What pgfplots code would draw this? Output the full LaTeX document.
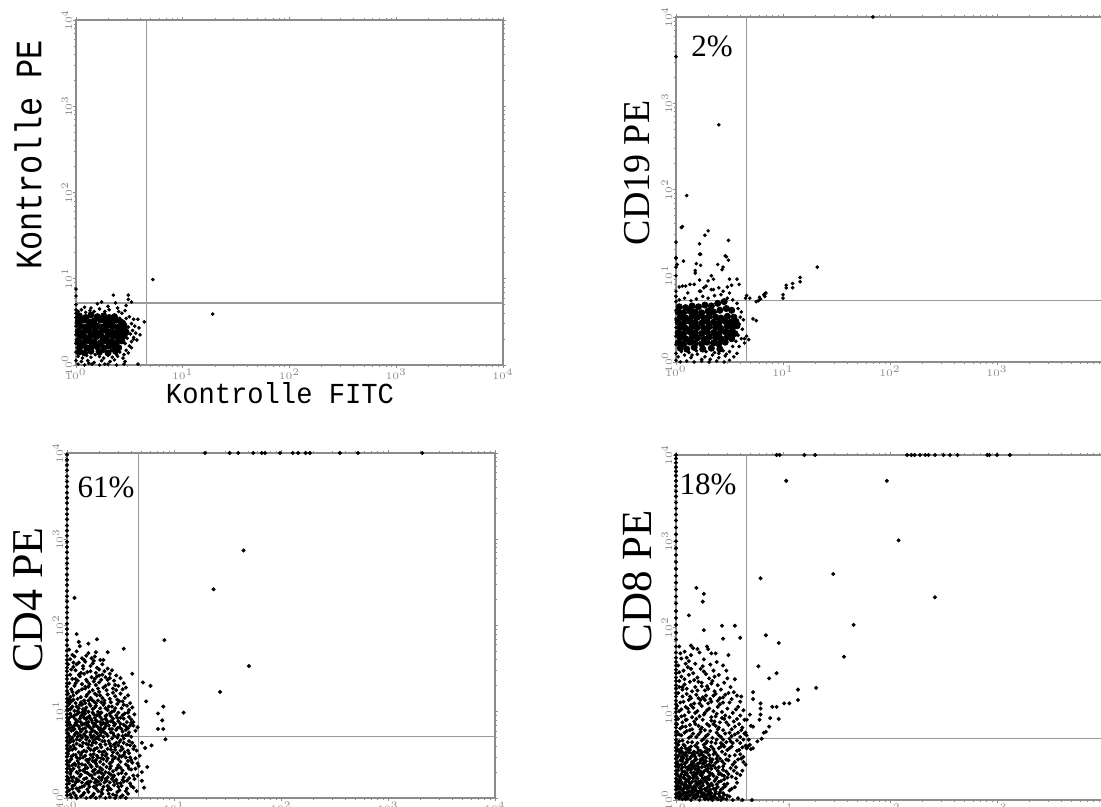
\documentclass[border=0pt]{standalone}
\usepackage{graphicx}
\usepackage{pgfplots}
\pgfplotsset{compat=1.18}
\usepackage{fontspec}
\setmainfont{Liberation Serif}
\newfontfamily\monof{Liberation Mono}
\definecolor{axgray}{gray}{0.55}
\definecolor{qgray}{gray}{0.6}
\pgfplotsset{
  facs/.style={
    scale only axis, width=214pt, height=172.5pt,
    xmin=0, xmax=400, ymin=0, ymax=400,
    axis line style={axgray, line width=0.6pt},
    tick align=outside, major tick length=1.5pt, minor tick length=1pt,
    every tick/.style={axgray, line width=0.35pt},
    xtick={0,100,200,300,400}, ytick={0,100,200,300,400},
    xticklabels={$10^0$,$10^1$,$10^2$,$10^3$,$10^4$},
    yticklabels={$10^0$,$10^1$,$10^2$,$10^3$,$10^4$},
    minor xtick={30.1,47.7,60.2,69.9,77.8,84.5,90.3,95.4,130.1,147.7,160.2,169.9,177.8,184.5,190.3,195.4,230.1,247.7,260.2,269.9,277.8,284.5,290.3,295.4,330.1,347.7,360.2,369.9,377.8,384.5,390.3,395.4},
    minor ytick={30.1,47.7,60.2,69.9,77.8,84.5,90.3,95.4,130.1,147.7,160.2,169.9,177.8,184.5,190.3,195.4,230.1,247.7,260.2,269.9,277.8,284.5,290.3,295.4,330.1,347.7,360.2,369.9,377.8,384.5,390.3,395.4},
    tick label style={font=\fontsize{1.8}{2.1}\selectfont, text=black!45, inner sep=0.2pt},
    y tick label style={rotate=90},
    clip=false,
  },
  rightpanel/.style={xticklabels={$10^0$,$10^1$,$10^2$,$10^3$,{}}},
  dots/.style={only marks, mark=*, mark size=0.7pt, mark options={draw=none, fill=black}},
  bdots/.style={only marks, mark=*, mark size=0.8pt, mark options={draw=none, fill=black}},
  core/.style={only marks, mark=*, mark size=1.55pt, mark options={draw=none, fill=black}},
  qline/.style={qgray, line width=0.7pt, no marks},
}
\begin{document}
\begin{tikzpicture}
\path[use as bounding box] (0,0) rectangle (550.5pt,403.5pt);

% ---------------- Panel 1: Kontrolle ----------------
\begin{axis}[facs, width=213.5pt, at={(38pt,221pt)}, anchor=south west]
\addplot[qline] coordinates {(66,0) (66,400)};
\addplot[qline] coordinates {(0,72) (400,72)};
\addplot[core] coordinates {
(3,57)(9,55)(14,58)(20,56)(26,57)(31,55)(36,56)
(2,50)(7,52)(12,50)(17,51)(23,52)(28,50)(33,51)(38,52)(42,50)
(4,45)(9,44)(15,46)(20,45)(25,44)(30,46)(35,45)(40,44)(45,46)
(2,39)(7,38)(12,40)(18,39)(23,38)(28,40)(33,39)(38,38)(43,40)(47,38)
(4,33)(9,32)(14,34)(19,33)(25,32)(30,34)(35,33)(40,32)(45,34)
(2,27)(7,26)(12,28)(17,27)(23,26)(28,28)(33,27)(38,26)(43,28)
(4,21)(10,20)(15,22)(20,21)(26,20)(31,22)(36,21)(40,20)
(3,15)(8,14)(14,16)(22,15)(30,14)(37,16)
};
\addplot[dots] coordinates {
(0,88)(0,80)(0,70)(0,64)(0,60)(2,62)(5,64)(9,61)(13,63)(17,62)(20,71)(24,73)(22,65)(27,62)(31,64)(35,81)(37,72)(40,62)(43,60)(46,63)(49,81)(49,76)(52,73)(47,69)(39,66)(30,68)(8,67)(14,66)
(50,56)(54,53)(58,53)(64,50)(52,48)(55,45)(59,43)(53,40)(56,37)(60,35)(54,32)(57,29)(52,27)(54,30)(50,22)(52,20)(47,17)(49,14)(45,12)(44,8)(46,4)(58,1)(41,15)(39,10)(49,44)(51,36)(48,31)(46,25)(45,50)(47,54)
(2,10)(6,8)(10,11)(14,9)(18,12)(22,10)(26,8)(30,11)(34,9)(38,12)(5,4)(11,5)(17,3)(24,5)(32,4)(36,6)(2,1)(8,0)(15,1)(22,0)(30,1)(38,0)(45,1)(27,1)(12,2)(0,5)(0,15)(0,25)(0,35)(0,45)(0,55)(1,20)(1,30)(1,40)(1,50)
(6,55)(11,47)(17,42)(22,35)(27,30)(32,24)(37,18)(42,36)(47,43)(8,30)(14,20)(20,16)(26,16)(33,17)(12,37)(29,52)(41,54)(44,47)
(72,99)(128,59)
};
\end{axis}

% ---------------- Panel 2: CD19 ----------------
\begin{axis}[facs, rightpanel, at={(338pt,222.5pt)}, anchor=south west]
\addplot[qline] coordinates {(66,0) (66,400)};
\addplot[qline] coordinates {(0,71) (400,71)};
\addplot[core] coordinates {
(3,64)(9,63)(15,65)(21,64)(27,66)(33,65)(39,68)(45,70)
(2,58)(7,57)(13,59)(18,58)(24,57)(30,59)(35,58)(41,60)(47,62)(52,60)
(4,52)(9,51)(15,53)(20,52)(26,51)(31,53)(37,52)(42,51)(48,53)(54,52)
(2,46)(7,45)(13,47)(18,46)(24,45)(29,47)(35,46)(40,45)(46,47)(51,46)(56,47)
(4,40)(9,39)(15,41)(20,40)(26,39)(31,41)(37,40)(42,39)(48,41)(53,40)(57,42)
(2,34)(7,33)(13,35)(18,34)(24,33)(29,35)(35,34)(40,33)(46,35)(51,34)(55,33)
(4,28)(9,27)(15,29)(20,28)(26,27)(31,29)(37,28)(42,27)(48,29)(52,27)
(2,22)(7,21)(13,23)(18,22)(24,21)(29,23)(35,22)(40,21)(46,23)
(4,16)(10,15)(17,17)(25,15)(33,16)(41,15)
};
\addplot[dots] coordinates {
(0,70)(0,76)(0,82)(3,72)(8,74)(14,71)(19,73)(25,76)(30,74)(36,77)(42,78)(48,74)(53,72)(57,68)(11,80)(22,82)(33,84)(44,82)(50,80)
(58,62)(61,58)(60,52)(63,49)(59,44)(62,38)(58,31)(61,27)(56,24)(59,18)(64,22)(66,30)(53,18)(50,12)(47,9)(57,10)(54,6)
(65,74)(69,74)(68,26)(64,27)(72,50)(75,48)(78,75)(82,78)(84,80)(100,78)(103,89)(109,91)(116,98)(132,110)(116,93)(109,86)(103,86)(100,74)(83,79)(83,76)(79,73)(77,71)(75,70)(66,77)
(6,157)(27,147)(30,152)(22,137)(49,141)(23,125)(47,122)(0,120)(7,117)(19,114)(23,112)(39,113)(44,110)(49,118)(18,106)(18,103)(33,100)(43,107)(22,95)(30,94)(35,96)(50,96)(57,96)(59,90)(48,87)(52,89)(3,87)(6,88)(9,88)(13,90)(17,90)(26,86)(28,88)(35,84)(40,86)(23,82)(0,100)(0,110)(5,156)(0,139)(0,121)(1,113)(46,123)(22,125)
(40,275)(10,193)(184,400)(0,354)
(0,2)(4,0)(10,1)(17,0)(24,1)(31,0)(38,1)(45,0)(50,2)(2,6)(8,8)(14,5)(20,9)(27,6)(34,8)(40,5)(46,7)(5,12)(12,11)(19,13)(28,12)(36,11)(44,13)(0,10)(0,20)(0,30)(0,40)(0,50)(0,60)(24,3)(15,8)(40,10)(32,3)
};
\end{axis}

% ---------------- Panel 3: CD4 ----------------
\begin{axis}[facs, at={(33.5pt,4.5pt)}, anchor=south west]
\addplot[qline] coordinates {(67,0) (67,400)};
\addplot[qline] coordinates {(0,71) (400,71)};
\addplot[bdots] coordinates {
(2,172)(5,166)(9,170)(14,162)(20,168)(26,164)(31,160)(3,161)(17,158)(24,156)
(1,155)(6,152)(11,157)(15,150)(22,153)(28,151)(33,155)(38,150)(8,148)(19,146)(27,145)(35,147)(42,148)
(3,143)(12,141)(16,144)(23,140)(30,142)(36,140)(40,144)(46,142)(5,138)(10,136)(18,137)(25,135)(32,137)(44,136)(50,139)
(2,133)(7,130)(14,132)(20,129)(27,131)(34,128)(39,132)(48,130)(53,133)(4,126)(11,124)(17,127)(24,125)(30,123)(37,125)(43,127)(55,128)
(1,121)(6,119)(9,122)(13,117)(19,120)(22,116)(28,119)(33,116)(38,120)(45,118)(50,121)(57,119)(3,114)(16,113)(25,112)(35,113)(41,111)(52,112)
(2,109)(5,106)(8,110)(11,104)(14,108)(18,105)(21,109)(24,103)(27,107)(31,104)(34,108)(38,102)(42,106)(47,109)(51,104)(56,107)(61,105)(1,102)(7,101)(16,100)(29,100)(44,101)
(3,98)(6,94)(9,97)(12,92)(15,96)(18,91)(21,95)(24,99)(26,93)(30,97)(33,91)(36,95)(40,98)(43,92)(46,96)(50,93)(54,98)(58,94)(63,97)(1,91)(10,89)(20,88)(28,89)(38,88)(48,89)
(2,86)(5,82)(8,87)(11,83)(14,85)(17,81)(20,84)(23,80)(26,86)(29,82)(32,85)(35,81)(39,84)(42,80)(45,86)(49,82)(53,85)(57,81)(62,84)(66,82)(4,78)(13,77)(22,76)(31,78)(41,76)(52,77)
(1,75)(7,73)(10,71)(16,74)(19,70)(25,72)(28,75)(34,71)(37,74)(44,72)(47,70)(55,73)(60,71)(3,68)(12,67)(21,66)(30,68)(39,66)(50,67)(58,66)
(2,64)(6,61)(9,63)(14,60)(18,63)(23,61)(27,64)(32,59)(36,62)(41,60)(46,64)(51,59)(56,62)(63,60)(5,56)(16,55)(26,57)(35,54)(45,56)(54,53)(65,55)
(1,51)(4,48)(8,50)(12,46)(17,49)(21,45)(25,51)(29,47)(33,50)(38,46)(42,49)(48,45)(53,50)(59,47)(68,49)(10,43)(20,41)(31,42)(40,40)(50,42)(61,41)
(2,37)(6,34)(11,36)(15,32)(19,35)(24,31)(28,37)(33,33)(37,36)(43,31)(47,35)(52,32)(57,37)(64,34)(3,28)(13,27)(23,26)(34,27)(44,26)(55,28)(70,30)
(1,23)(5,20)(9,22)(14,18)(18,23)(22,19)(27,21)(31,16)(36,22)(40,18)(46,21)(50,17)(56,20)(7,15)(16,14)(25,13)(38,14)(48,13)
(2,9)(6,6)(11,8)(15,4)(20,7)(24,3)(29,8)(33,5)(38,9)(43,4)(47,7)(52,3)(4,1)(9,0)(13,2)(18,0)(22,1)(27,0)(31,2)(36,0)(40,1)(45,0)(50,1)(55,0)
(4,112)(13,111)(20,113)(27,110)(32,111)(9,106)(22,107)(3,103)(17,102)(26,105)(36,104)(7,96)(14,99)(19,93)(28,96)(2,88)(9,85)(18,87)(25,83)(34,87)(6,79)(15,80)(24,78)(33,79)(11,74)(22,73)(31,73)(5,70)(14,70)(27,69)
(3,44)(14,53)(24,47)(34,45)(7,40)(17,38)(27,40)(9,30)(19,29)(29,30)(39,29)(4,24)(12,25)(21,27)(33,24)(43,24)(8,18)(20,16)(29,19)(35,18)
(3,117)(10,115)(18,118)(26,121)(31,119)(40,115)(47,114)(5,123)(14,126)(21,123)(29,127)(36,130)(8,133)(19,135)(26,138)(13,145)(4,149)(22,147)(30,149)(9,155)(16,160)(23,162)(7,164)(12,176)(20,179)(34,160)(40,139)(46,125)(54,116)(59,110)
(4,95)(11,99)(16,93)(23,90)(31,94)(37,90)(41,95)(48,99)(53,92)(56,88)(2,81)(7,84)(13,88)(19,84)(24,87)(30,80)(36,83)(43,88)(47,81)(55,79)(60,87)(64,78)(9,76)(17,72)(26,77)(35,76)(42,69)(52,72)(6,66)(18,68)(24,64)(33,66)(44,62)(49,65)(61,64)
(3,59)(8,57)(12,61)(20,58)(25,55)(30,54)(38,57)(43,53)(50,55)(58,52)(62,57)(6,50)(15,47)(22,50)(27,44)(36,49)(45,47)(51,48)(57,43)(64,46)(2,42)(11,40)(18,44)(26,42)(34,39)(42,42)(48,38)(55,39)(66,40)(5,38)(14,39)(23,36)(31,35)(40,34)(50,35)(60,33)(67,37)
(4,31)(10,29)(17,30)(26,28)(32,29)(41,27)(48,28)(53,24)(62,26)(2,17)(9,19)(18,17)(24,23)(30,24)(37,20)(44,19)(52,21)(59,17)(63,22)(5,11)(12,12)(19,10)(27,11)(34,13)(41,10)(49,9)(56,11)(62,12)(3,4)(8,3)(16,6)(25,5)(32,7)(39,5)(46,3)(57,5)
(1,112)(6,114)(12,108)(17,110)(23,114)(29,113)(35,110)(39,106)(45,104)(49,112)(53,108)(58,102)
(4,104)(10,101)(15,103)(20,100)(25,97)(32,99)(37,96)(42,100)(47,93)(52,96)(57,99)(60,91)
(2,93)(8,91)(13,95)(17,98)(22,92)(27,90)(31,88)(36,92)(41,89)(44,84)(50,86)(55,83)(59,84)
(3,85)(7,80)(12,80)(16,86)(21,82)(27,84)(31,81)(36,86)(40,80)(46,79)(51,80)(58,76)
(2,72)(8,75)(13,72)(18,77)(23,70)(29,71)(32,76)(38,72)(43,75)(48,73)(53,69)(57,73)
(4,66)(9,68)(15,64)(20,62)(25,67)(31,62)(35,66)(40,63)(45,59)(48,61)(53,64)(59,61)
(2,55)(7,58)(11,53)(18,54)(22,56)(28,58)(33,53)(37,51)(41,56)(47,52)(52,57)(57,55)
(4,45)(9,47)(13,50)(19,44)(24,43)(28,49)(32,46)(37,43)(43,45)(49,49)(55,47)(60,44)
(3,33)(8,38)(12,32)(17,34)(22,38)(26,33)(30,31)(36,30)(41,37)(46,33)(51,29)(58,34)
(2,20)(6,24)(11,20)(16,22)(20,19)(26,18)(32,21)(38,24)(42,22)(47,17)(53,19)(58,23)
(5,14)(9,11)(14,13)(21,13)(28,15)(33,10)(39,12)(44,15)(51,14)(55,8)
(17,129)(8,138)(30,134)(21,132)(11,143)(38,137)(28,141)(6,157)(15,153)(25,159)(33,143)(45,131)(52,126)(43,122)(18,165)(27,169)(11,181)
(61,144)(71,134)(78,130)(74,112)(85,98)(90,106)(89,90)(85,80)(90,80)(62,88)(79,61)(75,36)(92,68)(70,64)(73,58)(66,26)(70,20)(72,12)(65,8)(60,14)
(165,287)(137,242)(91,183)(170,153)(143,123)(109,99)(7,232)(9,190)(28,184)(53,173)(38,169)
(0,3)(0,7)(0,12)(0,16)(0,21)(0,25)(0,30)(0,34)(0,39)(0,43)(0,48)(0,52)(0,57)(0,61)(0,66)(0,70)(0,75)(0,79)(0,84)(0,88)(0,93)(0,97)(0,102)(0,106)(0,111)(0,115)(0,120)(0,124)(0,129)(0,133)(0,138)(0,142)(0,147)(0,151)(0,156)(0,160)(0,165)
(0,171)(0,177)(0,183)(0,190)(0,196)(0,202)(0,209)(0,215)(0,221)(0,228)(0,234)(0,240)(0,247)(0,253)(0,259)(0,266)(0,272)(0,278)(0,285)(0,291)(0,297)(0,304)(0,310)(0,316)(0,323)(0,329)(0,335)(0,342)(0,348)(0,354)(0,361)(0,367)(0,373)(0,380)(0,386)(0,392)(0,398)
(129,400)(152,400)(160,400)(174,400)(182,400)(185,400)(199,400)(211,400)(216,400)(223,400)(227,400)(255,400)(272,400)(332,400)
};
\end{axis}

% ---------------- Panel 4: CD8 ----------------
\begin{axis}[facs, rightpanel, at={(338pt,3.5pt)}, anchor=south west]
\addplot[qline] coordinates {(66,0) (66,400)};
\addplot[qline] coordinates {(0,71) (400,71)};
\addplot[bdots] coordinates {
(3,178)(8,172)(14,168)(20,175)(5,164)(12,161)(26,163)(33,170)(18,158)
(2,156)(7,150)(11,154)(16,147)(23,152)(28,146)(35,150)(40,145)(5,143)(20,142)(31,141)(44,156)
(3,138)(8,134)(13,137)(18,131)(24,136)(29,132)(34,138)(39,133)(45,136)(51,131)(6,128)(15,126)(27,127)(42,128)(55,140)
(2,124)(6,120)(10,123)(14,118)(19,122)(23,116)(28,121)(32,117)(37,123)(41,118)(46,122)(52,117)(57,121)(4,113)(17,112)(30,112)(44,113)(60,114)
(1,109)(5,105)(9,108)(12,102)(16,107)(20,103)(24,109)(27,101)(31,106)(35,103)(39,108)(43,102)(48,106)(53,101)(58,108)(63,104)(8,98)(22,97)(37,97)(50,96)
(2,94)(6,90)(10,93)(13,87)(17,91)(21,86)(25,93)(29,88)(33,92)(37,86)(41,90)(45,94)(49,87)(54,91)(59,88)(64,93)(4,83)(15,82)(27,81)(39,82)(52,82)(62,84)
(1,79)(5,75)(8,78)(12,72)(16,77)(19,73)(23,79)(26,71)(30,76)(34,72)(38,78)(42,73)(46,77)(50,71)(55,76)(60,73)(65,78)(3,68)(11,67)(20,66)(29,68)(37,66)(47,67)(57,69)(68,70)
(2,64)(5,60)(8,63)(11,58)(14,62)(17,56)(20,61)(23,57)(26,64)(29,59)(33,62)(36,56)(40,60)(44,64)(48,58)(52,62)(57,57)(62,61)(70,59)(4,54)(9,53)(16,52)(24,53)(31,52)(39,51)(46,53)(55,52)
(1,49)(4,46)(7,49)(10,44)(13,48)(16,42)(19,47)(22,43)(25,49)(28,45)(31,41)(34,47)(37,43)(41,48)(45,42)(49,46)(53,41)(58,47)(63,44)(3,40)(12,39)(21,38)(30,37)(40,38)(51,37)
(2,34)(5,30)(8,33)(11,28)(14,32)(17,27)(20,34)(23,29)(26,33)(29,26)(32,31)(35,28)(39,34)(43,29)(47,33)(52,27)(57,31)(62,34)(4,24)(10,23)(18,22)(27,23)(36,22)(45,24)
(1,19)(4,15)(7,18)(10,13)(13,17)(16,12)(19,19)(22,14)(25,17)(28,11)(31,16)(35,13)(38,18)(42,12)(46,16)(50,11)(55,15)(3,9)(9,8)(15,7)(21,9)(27,6)(33,8)(40,7)
(2,3)(6,1)(10,4)(14,0)(18,2)(22,0)(26,3)(30,1)(34,0)(38,2)(42,0)(47,1)(53,0)(62,0)(71,0)
(3,57)(7,52)(12,55)(18,50)(24,55)(6,45)(15,44)(26,46)(9,38)(18,36)(27,39)(5,36)(14,35)(23,33)(7,26)(16,25)(24,28)(3,20)(12,21)(20,17)(29,20)(6,11)(14,10)(24,12)(8,4)(17,5)(25,6)(33,4)(2,13)(11,15)(30,8)(19,30)(9,60)(21,58)(32,48)
(4,170)(10,165)(22,171)(16,176)(29,178)(9,158)(14,152)(25,155)(32,157)(38,160)(3,148)(12,145)(26,149)(36,143)(47,150)(8,140)(21,137)(33,135)(48,141)(10,129)(20,127)(36,126)(49,124)(3,131)(13,120)(25,119)(35,121)(44,119)(54,125)(61,120)
(7,114)(14,110)(22,112)(33,114)(41,111)(50,113)(56,105)(3,103)(11,106)(18,101)(29,104)(38,100)(46,98)(60,98)(5,97)(15,96)(26,99)(33,96)(43,95)(57,94)(1,88)(9,85)(18,88)(24,84)(31,86)(40,84)(47,90)(55,85)(61,81)
(3,76)(10,80)(14,74)(21,76)(28,74)(32,80)(40,75)(44,70)(52,74)(58,78)(63,70)(6,69)(15,67)(24,69)(33,67)(42,66)(51,68)(60,66)(7,64)(12,60)(18,63)(27,61)(35,59)(42,62)(50,60)(59,58)(65,63)
(2,57)(6,55)(10,51)(15,54)(20,55)(26,51)(29,55)(35,53)(43,56)(50,51)(60,53)(5,50)(11,47)(17,45)(23,47)(28,49)(33,44)(39,45)(47,47)(55,44)(61,48)(2,41)(8,42)(14,41)(19,40)(25,42)(35,40)(44,39)(56,38)(65,41)
(6,38)(11,35)(16,38)(21,32)(28,35)(33,36)(41,31)(49,30)(54,34)(60,29)(2,28)(8,29)(13,26)(19,27)(25,25)(31,28)(38,26)(48,26)(56,25)(5,21)(9,18)(15,21)(22,19)(28,22)(33,19)(40,21)(48,19)(57,20)
(2,16)(7,13)(12,14)(18,14)(23,11)(29,14)(37,10)(44,14)(52,13)(4,6)(11,9)(17,10)(24,8)(31,10)(36,6)(44,8)(48,5)(3,2)(9,1)(13,5)(20,4)(28,2)(36,3)(43,3)(58,2)
(1,59)(5,57)(9,55)(13,58)(17,53)(22,52)(27,56)(31,58)(37,54)
(2,51)(6,48)(10,47)(14,50)(18,47)(23,45)(27,43)(32,45)(38,48)(43,45)
(1,44)(5,41)(9,43)(12,37)(16,39)(20,42)(24,38)(29,40)(33,39)(37,37)(44,35)
(2,38)(6,33)(10,31)(13,36)(17,32)(21,36)(25,31)(30,33)(34,30)(40,30)(45,28)
(1,30)(4,27)(8,25)(12,24)(16,29)(20,25)(23,22)(27,26)(31,24)(37,24)(42,22)
(2,23)(5,19)(9,21)(13,19)(17,16)(21,21)(25,20)(30,18)(34,17)(39,15)(45,18)
(1,14)(5,12)(8,15)(12,10)(15,14)(19,11)(23,15)(27,13)(32,12)(37,13)(41,9)
(2,8)(6,7)(9,5)(12,6)(16,3)(20,6)(23,9)(26,8)(29,5)(32,2)(37,8)(41,4)(45,6)(50,4)
(1,5)(4,4)(7,9)(11,2)(15,9)(19,7)(23,4)(27,1)(31,6)(35,4)(39,1)(44,2)
(6,131)(17,139)(24,132)(30,129)(12,116)(21,118)(27,116)(39,115)(9,93)(19,94)(36,91)(6,85)(13,81)(23,82)(35,88)(44,81)(50,78)(28,66)(38,70)(45,62)(53,66)
(66,60)(69,64)(72,60)(77,155)(72,125)(72,117)(79,112)(79,106)(79,99)(69,99)(87,85)(84,79)(82,78)(80,71)(87,141)(94,147)(90,108)(94,108)(101,112)(106,112)(96,94)(88,95)(114,128)(114,116)(131,130)(84,191)(96,182)(79,257)(157,166)(166,203)(147,262)(242,235)(208,301)(197,370)(103,370)(66,75)(70,86)(63,50)(66,93)(72,85)(78,93)(64,77)(76,68)(67,62)
(19,246)(26,239)(25,230)(12,214)(26,197)(43,202)(55,202)(44,187)(60,188)(14,179)(30,175)(37,170)(49,168)
(0,3)(0,7)(0,12)(0,16)(0,21)(0,25)(0,30)(0,34)(0,39)(0,43)(0,48)(0,52)(0,57)(0,61)(0,66)(0,70)(0,75)(0,79)(0,84)(0,88)(0,93)(0,97)(0,102)(0,106)(0,111)(0,115)(0,120)(0,124)(0,129)(0,133)(0,138)(0,142)(0,147)(0,151)(0,156)(0,160)(0,165)
(0,171)(0,178)(0,186)(0,194)(0,203)(0,211)(0,219)(0,228)(0,236)(0,244)(0,252)(0,260)(0,268)(0,276)(0,284)(0,292)(0,300)(0,308)(0,316)(0,324)(0,331)(0,338)(0,345)(0,352)(0,358)(0,364)(0,370)(0,376)(0,381)(0,386)(0,391)(0,396)(0,400)
(94,400)(97,400)(120,400)(130,400)(216,400)(220,400)(223,400)(228,400)(233,400)(236,400)(242,400)(250,400)(256,400)(263,400)(291,400)(293,400)(300,400)(312,400)
};
\end{axis}

% ---------------- Labels ----------------
\node[rotate=90, inner sep=0pt, font=\monof] at (14pt,326pt) {\resizebox{115pt}{13.5pt}{Kontrolle PE}};
\node[inner sep=0pt, font=\monof] at (140pt,207pt) {\resizebox{114pt}{10.5pt}{Kontrolle FITC}};
\node[rotate=90, inner sep=0pt, font=\fontsize{19}{19}\selectfont] at (318.5pt,317pt) {CD19 PE};
\node[rotate=90, inner sep=0pt, font=\fontsize{22}{22}\selectfont] at (14pt,103.5pt) {CD4 PE};
\node[rotate=90, inner sep=0pt, font=\fontsize{21.5}{22}\selectfont] at (318.5pt,113pt) {CD8 PE};
\node[inner sep=0pt, font=\fontsize{15.5}{16}\selectfont] at (356pt,380.5pt) {2\%};
\node[inner sep=0pt, font=\fontsize{15.5}{16}\selectfont] at (53pt,160pt) {61\%};
\node[inner sep=0pt, font=\fontsize{15.5}{16}\selectfont] at (354pt,161.5pt) {18\%};
\end{tikzpicture}
\end{document}
